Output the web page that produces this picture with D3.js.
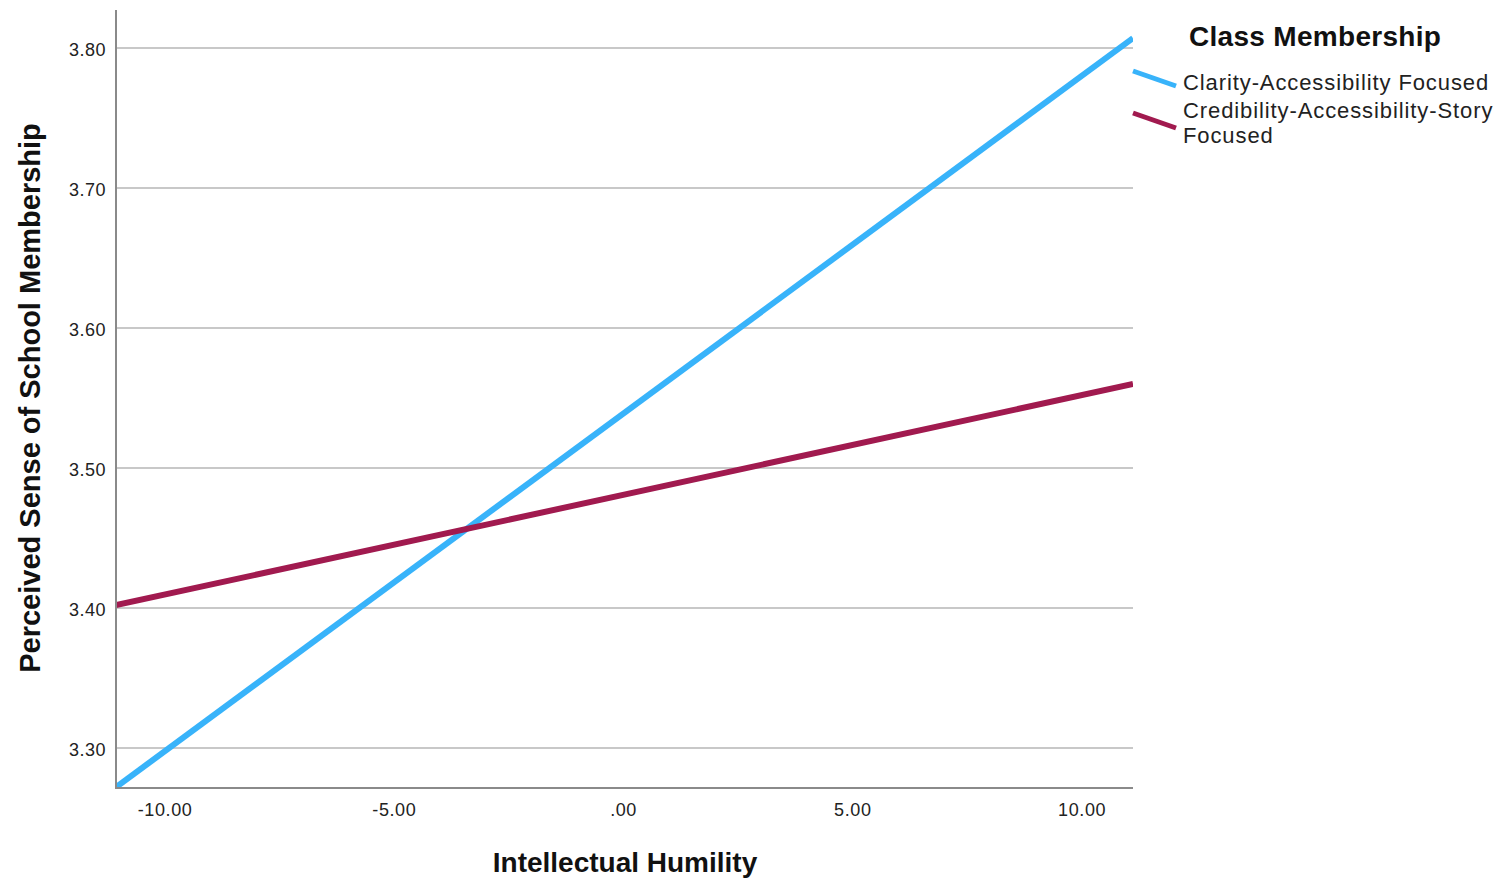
<!DOCTYPE html>
<html>
<head>
<meta charset="utf-8">
<script src="https://cdn.jsdelivr.net/npm/d3@7"></script>
<style>
  html, body { margin: 0; padding: 0; background: #fff; }
  text { font-family: Arial, "Liberation Sans", sans-serif; }
</style>
</head>
<body>
<svg id="chart" width="1499" height="880"></svg>
<script>
// Fitted lines of school membership on intellectual humility, by class
const xEnds = [-11.07, 11.11];
const clarityValues = [3.272, 3.807];
const credibilityValues = [3.402, 3.560];

const seriesNames = ["Clarity-Accessibility Focused", "Credibility-Accessibility-Story Focused"];
const seriesColors = ["#38b3fa", "#a11a4f"];

const xTicks = [-10, -5, 0, 5, 10];
const xTickLabels = ["-10.00", "-5.00", ".00", "5.00", "10.00"];
const yTicks = [3.30, 3.40, 3.50, 3.60, 3.70, 3.80];
const yTickLabels = ["3.30", "3.40", "3.50", "3.60", "3.70", "3.80"];

const svg = d3.select("#chart");
const plotLeft = 116, plotRight = 1133, plotTop = 10, plotBottom = 788;

const x = d3.scaleLinear().domain([-11.07, 11.11]).range([plotLeft, plotRight]);
const y = d3.scaleLinear().domain([3.2714, 3.8271]).range([plotBottom, plotTop]);

// gridlines
svg.append("g").selectAll("line").data(yTicks).join("line")
  .attr("x1", plotLeft).attr("x2", plotRight)
  .attr("y1", d => y(d)).attr("y2", d => y(d))
  .attr("stroke", "#c8c8c8").attr("stroke-width", 2);

// y tick labels
svg.append("g").selectAll("text").data(yTicks).join("text")
  .attr("x", 106).attr("y", d => y(d) + 8)
  .attr("text-anchor", "end")
  .attr("font-size", 18).attr("letter-spacing", 0.5).attr("fill", "#222")
  .text((d, i) => yTickLabels[i]);

// x tick labels
svg.append("g").selectAll("text").data(xTicks).join("text")
  .attr("x", d => x(d)).attr("y", 816)
  .attr("text-anchor", "middle")
  .attr("font-size", 18).attr("letter-spacing", 0.6).attr("fill", "#222")
  .text((d, i) => xTickLabels[i]);

// fitted lines, clipped to the plot area
svg.append("clipPath").attr("id", "plot-clip")
  .append("rect").attr("x", plotLeft).attr("y", plotTop)
  .attr("width", plotRight - plotLeft).attr("height", plotBottom - plotTop);

const lineGen = d3.line().x(d => x(d[0])).y(d => y(d[1]));
const series = [clarityValues, credibilityValues];
svg.append("g").attr("clip-path", "url(#plot-clip)")
  .selectAll("path").data(series).join("path")
  .attr("d", vals => lineGen(xEnds.map((xv, i) => [xv, vals[i]])))
  .attr("fill", "none")
  .attr("stroke", (d, i) => seriesColors[i])
  .attr("stroke-width", 6);

// axes
svg.append("line").attr("x1", plotLeft).attr("x2", plotLeft).attr("y1", plotTop).attr("y2", plotBottom)
  .attr("stroke", "#8a8a8a").attr("stroke-width", 2);
svg.append("line").attr("x1", plotLeft - 1).attr("x2", plotRight).attr("y1", plotBottom).attr("y2", plotBottom)
  .attr("stroke", "#8a8a8a").attr("stroke-width", 2);

// axis titles
svg.append("text")
  .attr("x", 625).attr("y", 872)
  .attr("text-anchor", "middle")
  .attr("font-size", 28).attr("font-weight", "bold").attr("fill", "#111")
  .text("Intellectual Humility");

svg.append("text")
  .attr("transform", "translate(40,398) rotate(-90)")
  .attr("text-anchor", "middle")
  .attr("font-size", 29).attr("font-weight", "bold").attr("fill", "#111")
  .text("Perceived Sense of School Membership");

// legend
const legend = svg.append("g");
legend.append("text")
  .attr("x", 1189).attr("y", 46)
  .attr("font-size", 28).attr("letter-spacing", 0.3).attr("font-weight", "bold").attr("fill", "#111")
  .text("Class Membership");

const legendRows = [
  { lines: [seriesNames[0]], y0: 71, base: 90 },
  { lines: ["Credibility-Accessibility-Story", "Focused"], y0: 113, base: 118 }
];
legendRows.forEach((row, i) => {
  legend.append("line")
    .attr("x1", 1133).attr("y1", row.y0)
    .attr("x2", 1176).attr("y2", row.y0 + 15)
    .attr("stroke", seriesColors[i]).attr("stroke-width", 5);
  const t = legend.append("text")
    .attr("x", 1183).attr("y", row.base)
    .attr("font-size", 22).attr("letter-spacing", 0.9).attr("fill", "#222");
  row.lines.forEach((ln, j) => {
    t.append("tspan").attr("x", 1183).attr("dy", j === 0 ? 0 : 25).text(ln);
  });
});
</script>
</body>
</html>
